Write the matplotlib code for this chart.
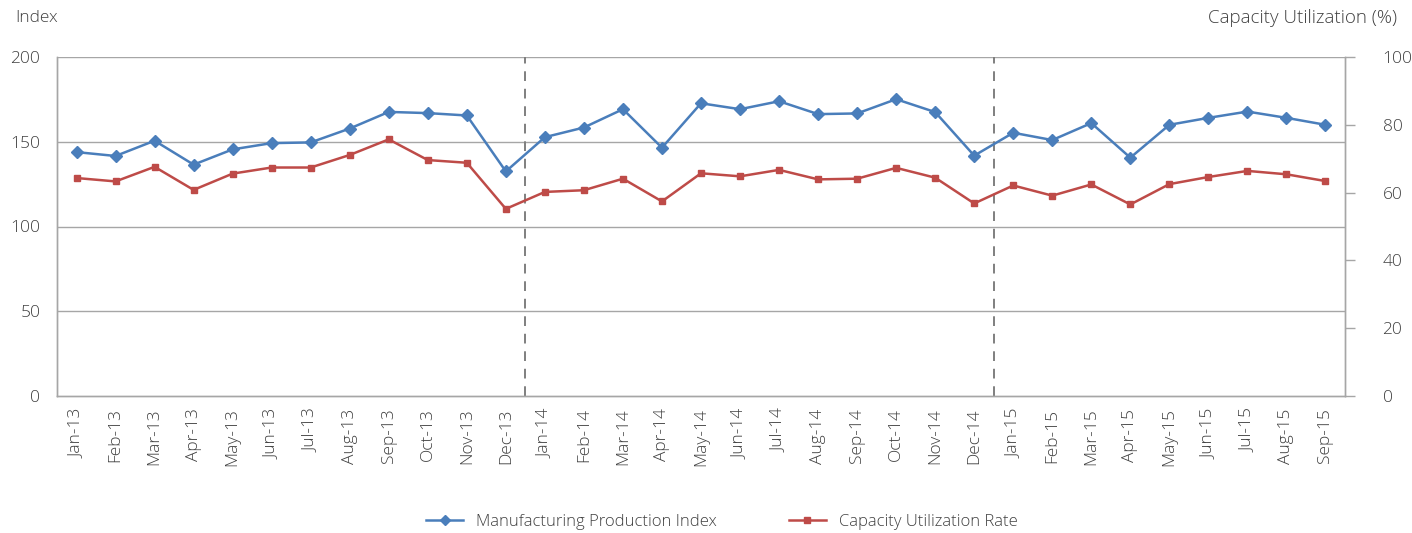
import matplotlib
matplotlib.use("Agg")
import matplotlib.pyplot as plt
from matplotlib.lines import Line2D

months = ["Jan-13","Feb-13","Mar-13","Apr-13","May-13","Jun-13","Jul-13","Aug-13","Sep-13","Oct-13","Nov-13","Dec-13",
          "Jan-14","Feb-14","Mar-14","Apr-14","May-14","Jun-14","Jul-14","Aug-14","Sep-14","Oct-14","Nov-14","Dec-14",
          "Jan-15","Feb-15","Mar-15","Apr-15","May-15","Jun-15","Jul-15","Aug-15","Sep-15"]
mpi = [143.9,141.6,150.6,136.5,145.5,149.2,149.6,157.8,167.6,166.9,165.5,132.5,
       152.7,158.4,169.2,146.5,172.7,169.2,173.9,166.3,166.7,175.1,167.5,141.8,
       155.3,151.0,161.0,140.6,160.0,164.1,167.8,164.1,160.0]
cur = [64.3,63.3,67.6,60.8,65.6,67.4,67.4,71.1,75.7,69.6,68.8,55.2,
       60.2,60.7,64.1,57.4,65.7,64.8,66.7,63.9,64.1,67.3,64.4,56.8,
       62.1,59.1,62.4,56.5,62.5,64.6,66.4,65.4,63.4]
left_ticks = [0, 50, 100, 150, 200]
right_ticks = [0, 20, 40, 60, 80, 100]
year_breaks = [11.5, 23.5]

plt.rcParams['font.family'] = ['Open Sans', 'DejaVu Sans']
plt.rcParams['font.weight'] = 300
txt = '#404040'
grid = '#a6a6a6'
blue = '#4a7ebb'
red = '#be4b48'

fig = plt.figure(figsize=(14.12, 5.33), dpi=100)
ax = fig.add_axes([57/1412, 1-396/533, (1345-57)/1412, (396-57)/533])
ax2 = ax.twinx()

x = list(range(len(months)))
ax.plot(x, mpi, color=blue, lw=1.8, marker='D', ms=6.5, zorder=5)
ax2.plot(x, cur, color=red, lw=1.8, marker='s', ms=5, zorder=5)

ax.set_xlim(-0.5, len(months)-0.5)
ax.set_ylim(0, 200)
ax2.set_ylim(0, 100)
ax.set_yticks(left_ticks)
ax2.set_yticks(right_ticks)
for t in left_ticks[1:]:
    ax.axhline(t, color=grid, lw=1, zorder=1)
for b in year_breaks:
    ax.axvline(b, color='#7f7f7f', lw=1.4, ls=(0, (5, 4)), zorder=2)

ax.set_xticks(x)
ax.set_xticklabels(months, rotation=90, fontsize=12.5, color=txt)
ax.tick_params(axis='x', length=0, pad=9)
ax.tick_params(axis='y', length=0, pad=12, labelsize=12.5, labelcolor=txt)
ax2.tick_params(axis='y', direction='out', length=7, width=1, color=grid, pad=20,
                labelsize=12.5, labelcolor=txt)

for a in (ax, ax2):
    for s in a.spines.values():
        s.set_color(grid)
        s.set_linewidth(1)
    a.spines['top'].set_visible(False)

fig.text(15/1412, 1-18/533, 'Index', fontsize=12.5, color=txt, va='center', ha='left')
fig.text(1397/1412, 1-18/533, 'Capacity Utilization (%)', fontsize=13.5, color=txt, va='center', ha='right')

handles = [Line2D([0], [0], color=blue, lw=1.8, marker='D', ms=5),
           Line2D([0], [0], color=red, lw=1.8, marker='s', ms=4)]
fig.legend(handles, ['Manufacturing Production Index', 'Capacity Utilization Rate'],
           loc='center', bbox_to_anchor=(722/1412, 1-522/533), ncol=2, frameon=False,
           fontsize=12, labelcolor=txt, columnspacing=4.3, handlelength=2.2)

fig.savefig('out.png', dpi=100)
